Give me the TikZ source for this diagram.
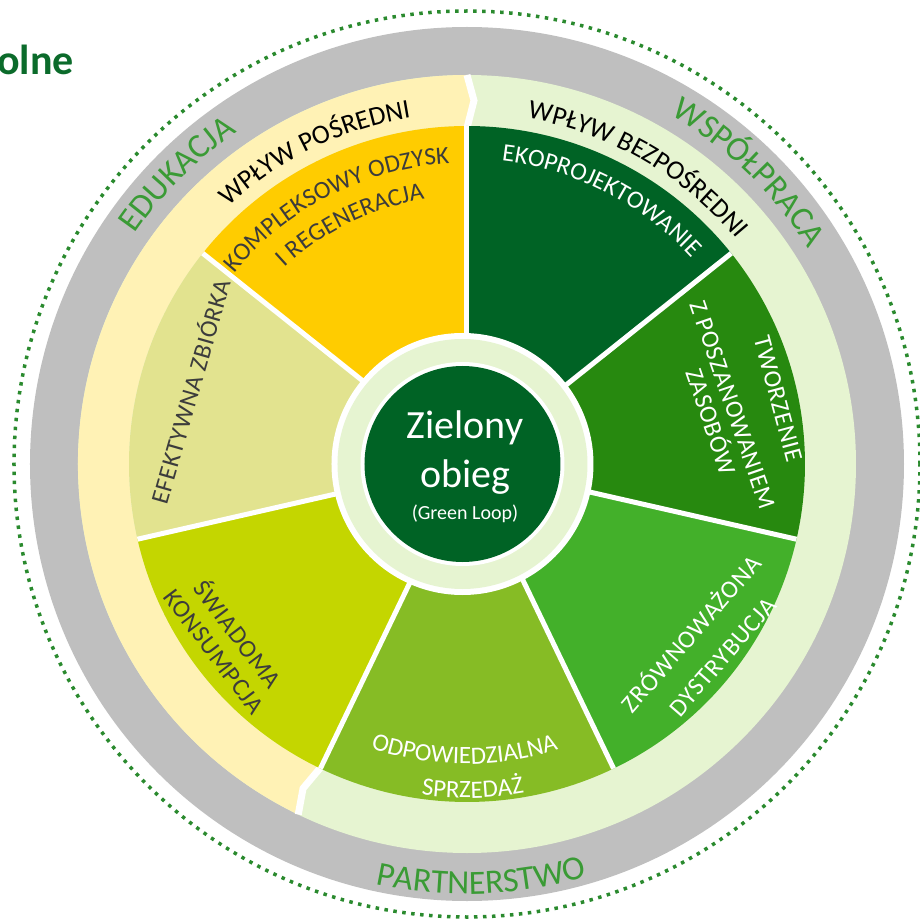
\documentclass[tikz,border=0pt]{standalone}
\usepackage{fontspec}
\setmainfont{Carlito}
\newfontfamily\ringfam[LetterSpace=4]{Carlito}
\newfontfamily\bandfam[LetterSpace=2]{Carlito}
\newfontfamily\sectorfam[LetterSpace=3]{Carlito}
\usepackage{tikz}
\usetikzlibrary{decorations.text}

\definecolor{dotgreen}{HTML}{2A8A2E}
\definecolor{ringgray}{HTML}{BFBFBF}
\definecolor{ringgreen}{HTML}{3A9B35}
\definecolor{bandyellow}{HTML}{FFF2B5}
\definecolor{bandgreen}{HTML}{E6F4D1}
\definecolor{sekA}{HTML}{FFCC00}
\definecolor{sekB}{HTML}{E2E38F}
\definecolor{sekC}{HTML}{C4D600}
\definecolor{sekD}{HTML}{86BC25}
\definecolor{sekE}{HTML}{43B02A}
\definecolor{sekF}{HTML}{27890F}
\definecolor{sekG}{HTML}{006325}
\definecolor{darktext}{HTML}{3C3C3C}
\definecolor{titlegreen}{HTML}{0B6B2B}

\newcommand{\ringfont}{\ringfam\fontsize{34}{34}\selectfont\color{ringgreen}}
\newcommand{\bandfont}{\bandfam\fontsize{27}{27}\selectfont\color{black}}
\newcommand{\sectorfont}{\sectorfam\fontsize{25}{25}\selectfont}

\begin{document}
\begin{tikzpicture}[x=1pt, y=1pt,
  sep/.style={white, line width=5pt},
  chevron/.style={white, line width=7pt, line join=miter},
  curved/.style={decorate, decoration={text along path, text align=center, text={#1}}},
  flatlabel/.style={inner sep=0pt, font=\sectorfont}]

\useasboundingbox (-467,-455) rectangle (452,464);

% Title (cut off)
\node[anchor=base west, inner sep=0pt, text=titlegreen, font=\bfseries\fontsize{42}{42}\selectfont] (tytul) at (-470,389) {olne};

% Dotted circle and gray ring
\draw[dotgreen, line width=3.5pt, dash pattern=on 3.5pt off 5.5pt] (0,0) circle[radius=453pt];
\fill[ringgray] (0,0) circle[radius=437pt];

% Band: indirect / direct
\fill[bandgreen] (0,0) circle[radius=389pt];
\fill[bandyellow] (90:389pt) -- (88.9:363.5pt) -- (90:338pt) arc[start angle=90, end angle=244.29, radius=338pt]
  -- (243.19:363.5pt) -- (244.29:389pt) arc[start angle=244.29, end angle=90, radius=389pt] -- cycle;
\draw[chevron] (90:389pt) -- (88.9:363.5pt) -- (90:336pt);
\draw[chevron] (244.29:389pt) -- (243.19:363.5pt) -- (244.29:336pt);

% Sectors
\fill[sekA] (0,0) -- (90:338pt) arc[start angle=90, end angle=141.43, radius=338pt] -- cycle;
\fill[sekB] (0,0) -- (141.43:338pt) arc[start angle=141.43, end angle=192.86, radius=338pt] -- cycle;
\fill[sekC] (0,0) -- (192.86:338pt) arc[start angle=192.86, end angle=244.29, radius=338pt] -- cycle;
\fill[sekD] (0,0) -- (244.29:338pt) arc[start angle=244.29, end angle=295.71, radius=338pt] -- cycle;
\fill[sekE] (0,0) -- (295.71:338pt) arc[start angle=295.71, end angle=347.14, radius=338pt] -- cycle;
\fill[sekF] (0,0) -- (347.14:338pt) arc[start angle=347.14, end angle=398.57, radius=338pt] -- cycle;
\fill[sekG] (0,0) -- (38.57:338pt) arc[start angle=38.57, end angle=90, radius=338pt] -- cycle;
\draw[sep] (0,0) -- (90:338pt);
\draw[sep] (0,0) -- (141.43:338pt);
\draw[sep] (0,0) -- (192.86:338pt);
\draw[sep] (0,0) -- (244.29:338pt);
\draw[sep] (0,0) -- (295.71:338pt);
\draw[sep] (0,0) -- (347.14:338pt);
\draw[sep] (0,0) -- (38.57:338pt);

% Hub
\coordinate (hub) at (-4.5,0);
\fill[white] (hub) circle[radius=131pt];
\fill[bandgreen] (hub) circle[radius=125pt];
\fill[white] (hub) circle[radius=102pt];
\fill[sekG] (hub) circle[radius=98pt];
\node[anchor=base, text=white, font=\fontsize{40}{40}\selectfont] (zielony) at (-2,26) {Zielony};
\node[anchor=base, text=white, font=\fontsize{40}{40}\selectfont] (obieg) at (-1.5,-23) {obieg};
\node[anchor=base, text=white, font=\fontsize{20}{20}\selectfont] (greenloop) at (-2,-55) {(Green Loop)};

% Ring labels
\path[curved={|\ringfont|EDUKACJA}] (165:404pt) arc[start angle=165, end angle=105, radius=404pt];
\path[curved={|\ringfont|WSPÓŁPRACA}] (76:404pt) arc[start angle=76, end angle=16, radius=404pt];
\path[curved={|\ringfont|PARTNERSTWO}] (242:430pt) arc[start angle=242, end angle=302, radius=430pt];

% Band labels
\path[curved={|\bandfont|WPŁYW POŚREDNI}] (146:351pt) arc[start angle=146, end angle=86, radius=351pt];
\path[curved={|\bandfont|WPŁYW BEZPOŚREDNI}] (90:351pt) arc[start angle=90, end angle=30, radius=351pt];

% Sector labels
\path[curved={|\sectorfont\color{darktext}|KOMPLEKSOWY ODZYSK}] (157:301pt) arc[start angle=157, end angle=77, radius=301pt];
\path[curved={|\sectorfont\color{darktext}|I REGENERACJA}] (156:268pt) arc[start angle=156, end angle=76, radius=268pt];
\path[curved={|\sectorfont\color{white}|EKOPROJEKTOWANIE}] (103:305pt) arc[start angle=103, end angle=23, radius=305pt];
\path[curved={|\sectorfont\color{white}|ODPOWIEDZIALNA}] (229:300pt) arc[start angle=229, end angle=310, radius=300pt];
\path[curved={|\sectorfont\color{white}|SPRZEDAŻ}] (231:334pt) arc[start angle=231, end angle=311, radius=334pt];
\node[flatlabel, text=white, rotate=-75] (tworzenie) at (311,65) {TWORZENIE};
\node[flatlabel, text=white, rotate=-71] (poszanowanie) at (266,59) {Z POSZANOWANIEM};
\node[flatlabel, text=white, rotate=-71] (zasoby) at (246,43) {ZASOBÓW};
\node[flatlabel, text=white, rotate=49] (zrownowazona) at (223,-168.5) {ZRÓWNOWAŻONA};
\node[flatlabel, text=white, rotate=49] (dystrybucja) at (256,-193) {DYSTRYBUCJA};
\node[flatlabel, text=darktext, rotate=-53] (swiadoma) at (-227.8,-169.3) {ŚWIADOMA};
\node[flatlabel, text=darktext, rotate=-53] (konsumpcja) at (-253,-188) {KONSUMPCJA};
\node[flatlabel, text=darktext, rotate=74] (zbiorka) at (-278,73) {EFEKTYWNA ZBIÓRKA};

\end{tikzpicture}
\end{document}
